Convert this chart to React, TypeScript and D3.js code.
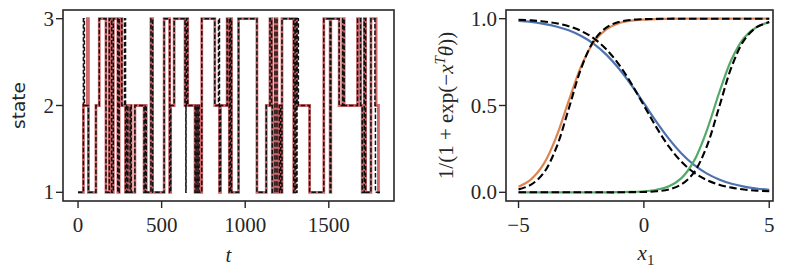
import React from 'react';
import * as d3 from 'd3';

// ---- left panel: true (red) and decoded (black dashed) state sequences, [t, state] change points
const stateTrue: [number, number][] = [
  [0, 1], [32, 2], [56, 3], [62, 1], [107, 2], [127, 3], [167, 1], [187, 3], [201, 1], [211, 3],
  [238, 1], [246, 3], [262, 2], [284, 1], [290, 2], [298, 1], [312, 2], [318, 1], [340, 2], [395, 1],
  [402, 2], [408, 1], [436, 3], [446, 1], [515, 3], [548, 1], [554, 2], [575, 3], [640, 2], [648, 3],
  [656, 2], [700, 1], [706, 2], [712, 1], [718, 2], [724, 1], [740, 3], [818, 2], [846, 1], [852, 2],
  [892, 3], [905, 1], [912, 3], [918, 1], [960, 3], [1070, 1], [1126, 2], [1148, 3], [1158, 2], [1162, 1],
  [1178, 3], [1190, 1], [1204, 2], [1212, 1], [1220, 3], [1290, 1], [1298, 3], [1306, 2], [1385, 1],
  [1470, 3], [1508, 1], [1512, 3], [1562, 2], [1583, 3], [1592, 2], [1672, 3], [1690, 2], [1700, 1],
  [1712, 3], [1720, 1], [1752, 3], [1783, 2], [1797, 1], [1806, 1],
];

const stateDecoded: [number, number][] = [
  [0, 1], [32, 3], [38, 2], [62, 1], [107, 2], [127, 3], [167, 1], [187, 3], [201, 1], [211, 3],
  [238, 1], [246, 3], [262, 2], [278, 3], [284, 1], [290, 2], [298, 1], [312, 2], [318, 1], [340, 2],
  [395, 1], [402, 2], [408, 1], [436, 3], [446, 1], [515, 3], [548, 1], [554, 2], [575, 3], [640, 2],
  [645, 1], [646, 2], [648, 3], [656, 2], [700, 1], [706, 2], [712, 1], [718, 2], [724, 1], [740, 3],
  [818, 2], [840, 3], [846, 1], [852, 2], [892, 3], [905, 1], [912, 3], [918, 1], [960, 3], [1070, 1],
  [1126, 2], [1148, 3], [1158, 2], [1162, 1], [1178, 3], [1190, 1], [1204, 2], [1212, 1], [1220, 3],
  [1290, 1], [1298, 3], [1306, 1], [1310, 3], [1318, 2], [1385, 1], [1470, 3], [1508, 1], [1512, 3],
  [1562, 2], [1583, 3], [1592, 2], [1672, 3], [1690, 2], [1700, 1], [1712, 3], [1720, 1], [1752, 3],
  [1776, 2], [1779, 1], [1806, 1],
];

const tTicks = [0, 500, 1000, 1500];
const stateTicks = [1, 2, 3];

// ---- right panel: logistic curves sampled on x1
const x1 = [-5, -4.5, -4, -3.5, -3, -2.5, -2, -1.5, -1, -0.5, 0, 0.5, 1, 1.5, 2, 2.5, 3, 3.5, 4, 4.5, 5];
const blueTrue = [0.987, 0.981, 0.970, 0.955, 0.933, 0.900, 0.855, 0.793, 0.713, 0.618, 0.513, 0.406, 0.308, 0.224, 0.158, 0.109, 0.074, 0.049, 0.033, 0.022, 0.014];
const orangeTrue = [0.032, 0.075, 0.162, 0.317, 0.526, 0.727, 0.865, 0.939, 0.974, 0.989, 0.995, 0.998, 0.999, 1, 1, 1, 1, 1, 1, 1, 1];
const greenTrue = [0, 0, 0, 0, 0, 0, 0, 0, 0.001, 0.002, 0.006, 0.015, 0.035, 0.082, 0.181, 0.352, 0.572, 0.766, 0.890, 0.952, 0.980];
const blueFit = [0.994, 0.990, 0.984, 0.974, 0.957, 0.929, 0.887, 0.824, 0.737, 0.626, 0.5, 0.374, 0.263, 0.176, 0.113, 0.071, 0.044, 0.027, 0.016, 0.010, 0.006];
const orangeFit = [0.017, 0.044, 0.111, 0.254, 0.48, 0.715, 0.872, 0.949, 0.981, 0.993, 0.997, 0.999, 1, 1, 1, 1, 1, 1, 1, 1, 1];
const greenFit = [0, 0, 0, 0, 0, 0, 0, 0, 0, 0.001, 0.002, 0.006, 0.017, 0.046, 0.115, 0.261, 0.49, 0.723, 0.877, 0.951, 0.981];
const x1Ticks = [-5, 0, 5];
const probTicks = [0, 0.5, 1];
const probTickLabels = ['0.0', '0.5', '1.0'];

const INK = '#262626';
const SERIF = "Liberation Serif, Times New Roman, Tinos, DejaVu Serif, Noto Serif, serif";
const SANS = "DejaVu Sans, Verdana, sans-serif";

const App = () => {
  const top = 10, bottom = 201;

  // left axes
  const L = {left: 63, right: 394};
  const tScale = d3.scaleLinear().domain([-90, 1890]).range([L.left, L.right]);
  const sScale = d3.scaleLinear().domain([0.9, 3.1]).range([bottom, top]);
  const stepLine = d3.line<[number, number]>()
    .x(d => tScale(d[0]))
    .y(d => sScale(d[1]))
    .curve(d3.curveStepAfter);

  // right axes
  const R = {left: 506, right: 773};
  const xScale = d3.scaleLinear().domain([-5.5, 5.15]).range([R.left, R.right]);
  const pScale = d3.scaleLinear().domain([-0.05, 1.05]).range([bottom, top]);
  const curve = (ys: number[]) => d3.line<number>()
    .x((_, i) => xScale(x1[i]))
    .y(d => pScale(d))
    .curve(d3.curveCatmullRom)(ys) as string;

  const solids = [
    {ys: blueTrue, color: '#4C72B0'},
    {ys: orangeTrue, color: '#DD8452'},
    {ys: greenTrue, color: '#55A868'},
  ];
  const fits = [blueFit, orangeFit, greenFit];

  return (
    <svg width={792} height={275} style={{position: 'absolute', left: 0, top: 0, background: '#fff'}}>
      {/* ---------- left panel ---------- */}
      <path d={stepLine(stateTrue) as string} fill="none" stroke="#C44E52" strokeOpacity={0.85} strokeWidth={2.8}/>
      <path d={stepLine(stateDecoded) as string} fill="none" stroke="#111" strokeWidth={1.5} strokeDasharray="4.5 2"/>
      <rect x={L.left} y={top} width={L.right - L.left} height={bottom - top} fill="none" stroke={INK} strokeWidth={1.6}/>
      <g fontFamily={SERIF} fontSize={21} fill={INK}>
        {tTicks.map(t => (
          <g key={'t' + t}>
            <line x1={tScale(t)} x2={tScale(t)} y1={bottom} y2={bottom + 7} stroke={INK} strokeWidth={1.4}/>
            <text x={tScale(t)} y={232} textAnchor="middle">{t}</text>
          </g>
        ))}
        {stateTicks.map(s => (
          <g key={'s' + s}>
            <line x1={L.left - 7} x2={L.left} y1={sScale(s)} y2={sScale(s)} stroke={INK} strokeWidth={1.4}/>
            <text x={L.left - 9} y={sScale(s) + 7} textAnchor="end">{s}</text>
          </g>
        ))}
        <text x={(L.left + L.right) / 2} y={262} textAnchor="middle" fontStyle="italic">t</text>
      </g>
      <text transform={`translate(25, ${(top + bottom) / 2}) rotate(-90)`} textAnchor="middle"
            fontFamily={SANS} fontSize={18.5} fill={INK}>state</text>

      {/* ---------- right panel ---------- */}
      {solids.map((s, i) => (
        <path key={'c' + i} d={curve(s.ys)} fill="none" stroke={s.color} strokeWidth={2.2}/>
      ))}
      {fits.map((ys, i) => (
        <path key={'f' + i} d={curve(ys)} fill="none" stroke="#000" strokeWidth={2.1} strokeDasharray="7.5 3.5"/>
      ))}
      <rect x={R.left} y={top} width={R.right - R.left} height={bottom - top} fill="none" stroke={INK} strokeWidth={1.6}/>
      <g fontFamily={SERIF} fontSize={21} fill={INK}>
        {x1Ticks.map(v => (
          <g key={'x' + v}>
            <line x1={xScale(v)} x2={xScale(v)} y1={bottom} y2={bottom + 7} stroke={INK} strokeWidth={1.4}/>
            <text x={xScale(v)} y={232} textAnchor="middle">
              {v < 0 ? '\u2212' + Math.abs(v) : v}
            </text>
          </g>
        ))}
        {probTicks.map((p, i) => (
          <g key={'p' + p}>
            <line x1={R.left - 7} x2={R.left} y1={pScale(p)} y2={pScale(p)} stroke={INK} strokeWidth={1.4}/>
            <text x={R.left - 9} y={pScale(p) + 7} textAnchor="end">{probTickLabels[i]}</text>
          </g>
        ))}
        <text x={646} y={260} textAnchor="middle">
          <tspan fontStyle="italic">x</tspan>
          <tspan fontSize={15} dy={5}>1</tspan>
        </text>
        <text transform={`translate(453, ${(top + bottom) / 2}) rotate(-90)`} textAnchor="middle">
          <tspan>1/(1 + exp(−</tspan>
          <tspan fontStyle="italic">x</tspan>
          <tspan fontStyle="italic" fontSize={15} dy={-8}>T</tspan>
          <tspan fontStyle="italic" dy={8}>θ</tspan>
          <tspan>))</tspan>
        </text>
      </g>
    </svg>
  );
};

export default App;
